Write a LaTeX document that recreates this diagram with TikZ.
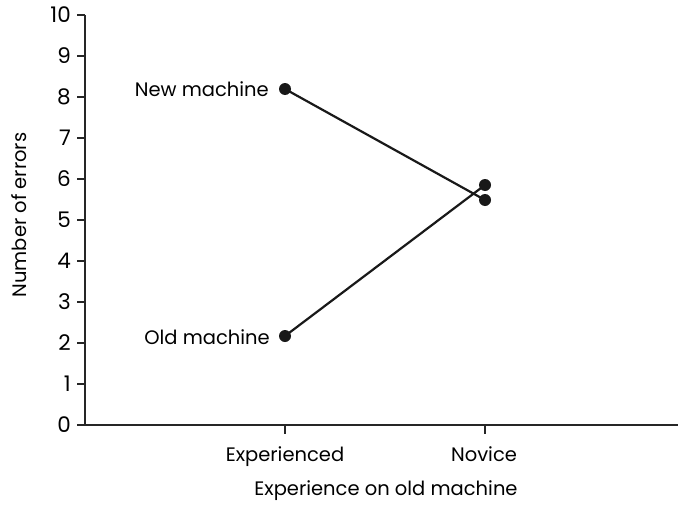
\documentclass[tikz,border=0pt]{standalone}
\usepackage{fontspec}
\setmainfont{Poppins}
\begin{document}
\begin{tikzpicture}[x=1pt,y=-1pt,
  lbl/.style={font=\fontsize{19.5}{23}\selectfont, inner sep=0pt},
  numlbl/.style={font=\fontsize{21.5}{25}\selectfont, inner sep=0pt},
  axisline/.style={line width=1.4pt, black!85},
  dataline/.style={line width=2.2pt, black!90},
  dot/.style={circle, fill=black!90, minimum size=12pt, inner sep=0pt}]
\useasboundingbox (0,0) rectangle (678,506);
% axes
\coordinate (o) at (85,425);
\coordinate (ytop) at (85,15);
\coordinate (xend) at (678,425);
\draw[axisline] (ytop) -- (o) -- (xend);
\foreach \v in {0,...,10} {
  \draw[axisline] (77,{425-41*\v}) -- (85,{425-41*\v});
  \node[numlbl, anchor=east] (yt\v) at (71,{425-41*\v}) {\v};
}
\draw[axisline] (285,425) -- (285,434);
\draw[axisline] (485,425) -- (485,434);
\node[lbl, anchor=base] (xe) at (285,461) {Experienced};
\node[lbl, anchor=base] (xn) at (484,461) {Novice};
\node[lbl, anchor=base] (xlab) at (386,495) {Experience on old machine};
\node[lbl, rotate=90, anchor=base] (ylab) at (27,215) {Number of errors};
% data
\node[dot] (ne) at (285,89) {};
\node[dot] (nn) at (485,200) {};
\node[dot] (oe) at (285,336) {};
\node[dot] (on) at (485,185) {};
\draw[dataline] (ne.center) -- (nn.center);
\draw[dataline] (oe.center) -- (on.center);
\node[lbl, anchor=base east] (nlab) at (269,96) {New machine};
\node[lbl, anchor=base east] (olab) at (270,344) {Old machine};
\end{tikzpicture}
\end{document}
